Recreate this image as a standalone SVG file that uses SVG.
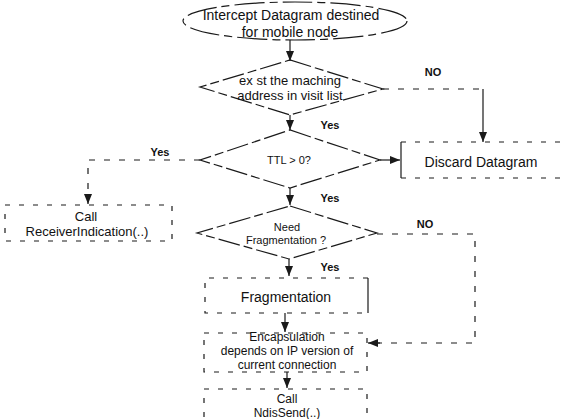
<svg xmlns="http://www.w3.org/2000/svg" width="562" height="419" viewBox="0 0 562 419">
<defs>
<marker id="arr" markerUnits="userSpaceOnUse" markerWidth="10" markerHeight="10" viewBox="0 0 10 10" refX="10" refY="5" orient="auto">
<path d="M0,1 L10,5 L0,9 Z" fill="#1a1a1a"/>
</marker>
</defs>
<style>
.sh{fill:none;stroke:#1a1a1a;stroke-width:1.2}
.dia{stroke-dasharray:22 4 9 4}
.box{stroke-dasharray:5 9}
.ln{fill:none;stroke:#1a1a1a;stroke-width:1.2}
.dl{stroke-dasharray:6 9}
text{font-family:"Liberation Sans",Arial,sans-serif;fill:#111;text-anchor:middle}
.t14{font-size:14px}
.t13{font-size:13px}
.t12{font-size:12px}
.t11{font-size:11px}
.lbl{font-size:11px;font-weight:bold}
</style>
<g id="start">
<ellipse class="sh" cx="295" cy="21" rx="112" ry="19" style="stroke-dasharray:30 5 8 5"/>
<text class="t14" x="291" y="20">Intercept Datagram destined</text>
<text class="t14" x="290" y="37">for mobile node</text>
</g>
<g id="check-visit">
<polygon class="sh dia" points="290,60 383,89 290,115 200,87"/>
<text class="t13" x="290" y="85">ex st the maching</text>
<text class="t13" x="290" y="100">address in visit list</text>
</g>
<g id="ttl">
<polygon class="sh dia" points="290,130 380,160 290,188 200,160"/>
<text class="t11" x="289" y="164">TTL &gt; 0?</text>
</g>
<g id="discard">
<path class="sh" d="M401,142 V178"/>
<path class="sh box" d="M401,142 H564 M401,178 H564"/>
<text class="t14" x="481" y="167">Discard Datagram</text>
</g>
<g id="receiver">
<rect class="sh box" x="5" y="205" width="167" height="36"/>
<text class="t13" x="86" y="221">Call</text>
<text class="t13" x="87" y="236">ReceiverIndication(..)</text>
</g>
<g id="need-frag">
<polygon class="sh dia" points="290,206 377,233 289,259 197,233"/>
<text class="t11" x="287" y="231">Need</text>
<text class="t11" x="286" y="244">Fragmentation ?</text>
</g>
<g id="fragmentation">
<path class="sh" d="M368,278 V313"/>
<path class="sh box" d="M368,278 H205 V313 H368"/>
<text class="t14" x="286" y="302">Fragmentation</text>
</g>
<g id="encapsulation">
<rect class="sh box" x="204" y="333" width="163" height="39"/>
<text class="t12" x="287" y="341">Encapsulation</text>
<text class="t12" x="287" y="355">depends on IP version of</text>
<text class="t12" x="287" y="369">current connection</text>
</g>
<g id="ndissend">
<rect class="sh box" x="204" y="389" width="163" height="40"/>
<text class="t12" x="287" y="403">Call</text>
<text class="t12" x="287" y="417">NdisSend(..)</text>
</g>
<g id="connectors">
<path class="ln" d="M290,40 V61" marker-end="url(#arr)"/>
<path class="ln" d="M290,115 V130" marker-end="url(#arr)"/>
<path class="ln" d="M380,160 H400" marker-end="url(#arr)"/>
<path class="ln" d="M290,188 V205" marker-end="url(#arr)"/>
<path class="ln" d="M289,259 V276" marker-end="url(#arr)"/>
<path class="ln" d="M285,313 V332" marker-end="url(#arr)"/>
<path class="ln" d="M287,372 V388" marker-end="url(#arr)"/>
<path class="ln dl" d="M383,89 H483"/>
<path class="ln" d="M483,89 V142" marker-end="url(#arr)"/>
<path class="ln dl" d="M200,160 H88 V196"/>
<path class="ln" d="M88,194 V204" marker-end="url(#arr)"/>
<path class="ln dl" d="M377,234 H475 V343 H378"/>
<path class="ln" d="M380,343 H368" marker-end="url(#arr)"/>
<text class="lbl" x="330" y="129">Yes</text>
<text class="lbl" x="433" y="76">NO</text>
<text class="lbl" x="160" y="156">Yes</text>
<text class="lbl" x="330" y="202">Yes</text>
<text class="lbl" x="425" y="228">NO</text>
<text class="lbl" x="330" y="271">Yes</text>
</g>
</svg>
